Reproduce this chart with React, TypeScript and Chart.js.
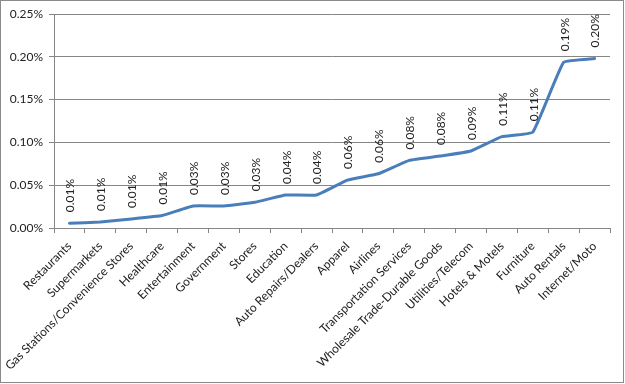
import React, { useEffect, useRef } from "react";
import { Chart, registerables } from "chart.js";
Chart.register(...registerables);

const categories = [
  "Restaurants",
  "Supermarkets",
  "Gas Stations/Convenience Stores",
  "Healthcare",
  "Entertainment",
  "Government",
  "Stores",
  "Education",
  "Auto Repairs/Dealers",
  "Apparel",
  "Airlines",
  "Transportation Services",
  "Wholesale Trade-Durable Goods",
  "Utilities/Telecom",
  "Hotels & Motels",
  "Furniture",
  "Auto Rentals",
  "Internet/Moto",
];
// values in percent
const values = [
  0.0055, 0.007, 0.0105, 0.0145, 0.0257, 0.0257, 0.03, 0.0385, 0.0385, 0.056,
  0.0634, 0.079, 0.084, 0.09, 0.1067, 0.112, 0.1936, 0.198,
];
const yTicks = [0, 0.05, 0.1, 0.15, 0.2, 0.25];

const FONT = "Lato, 'Open Sans', sans-serif";
const GRID = "#868686";
const TEXT = "#222";

const labelPlugin = {
  id: "pointLabels",
  afterDatasetsDraw(chart: any) {
    const ctx = chart.ctx;
    const meta = chart.getDatasetMeta(0);
    ctx.save();
    ctx.font = `12px ${FONT}`;
    ctx.fillStyle = TEXT;
    ctx.textAlign = "left";
    ctx.textBaseline = "middle";
    meta.data.forEach((pt: any, i: number) => {
      const txt = values[i].toFixed(2) + "%";
      ctx.save();
      ctx.translate(pt.x + 1, pt.y - 11);
      ctx.rotate(-Math.PI / 2);
      ctx.fillText(txt, 0, 0);
      ctx.restore();
    });
    ctx.restore();
  },
};

const borderPlugin = {
  id: "outerBorder",
  afterDraw(chart: any) {
    const ctx = chart.ctx;
    ctx.save();
    ctx.strokeStyle = "#8a8a8a";
    ctx.lineWidth = 1;
    ctx.strokeRect(0.5, 0.5, chart.width - 2, chart.height - 2);
    ctx.restore();
  },
};

export default function App() {
  const ref = useRef<HTMLCanvasElement>(null);
  useEffect(() => {
    document.body.style.margin = "0";
    const chart = new Chart(ref.current as HTMLCanvasElement, {
      type: "line",
      data: {
        labels: categories,
        datasets: [
          {
            data: values,
            borderColor: "#4A7EBB",
            borderWidth: 3,
            borderJoinStyle: "round",
            borderCapStyle: "round",
            pointRadius: 0,
            tension: 0.1,
            fill: false,
          },
        ],
      },
      plugins: [labelPlugin, borderPlugin],
      options: {
        responsive: false,
        animation: false,
        events: [],
        layout: { padding: { top: 14, right: 15, left: 0, bottom: 0 } },
        plugins: { legend: { display: false }, tooltip: { enabled: false } },
        scales: {
          x: {
            offset: true,
            grid: {
              offset: true,
              drawOnChartArea: false,
              drawTicks: true,
              tickLength: 5,
              color: GRID,
            },
            border: { color: GRID },
            ticks: {
              autoSkip: false,
              maxRotation: 45,
              minRotation: 45,
              padding: 6,
              color: TEXT,
              font: { family: FONT, size: 12 },
            },
            afterFit(scale: any) {
              scale.height = 156;
              scale.paddingLeft = 0;
              scale.paddingRight = 0;
            },
          },
          y: {
            min: 0,
            max: 0.25,
            afterBuildTicks(scale: any) {
              scale.ticks = yTicks.map((v) => ({ value: v }));
            },
            grid: { color: GRID, tickLength: 5, drawTicks: true },
            border: { color: GRID },
            ticks: {
              padding: 6,
              color: TEXT,
              font: { family: FONT, size: 12 },
              callback: (v: any) => Number(v).toFixed(2) + "%",
            },
            afterFit(scale: any) {
              scale.width = 54;
              scale.paddingTop = 0;
              scale.paddingBottom = 0;
            },
          },
        },
      },
    });
    return () => chart.destroy();
  }, []);
  return <canvas ref={ref} width={625} height={384} />;
}
